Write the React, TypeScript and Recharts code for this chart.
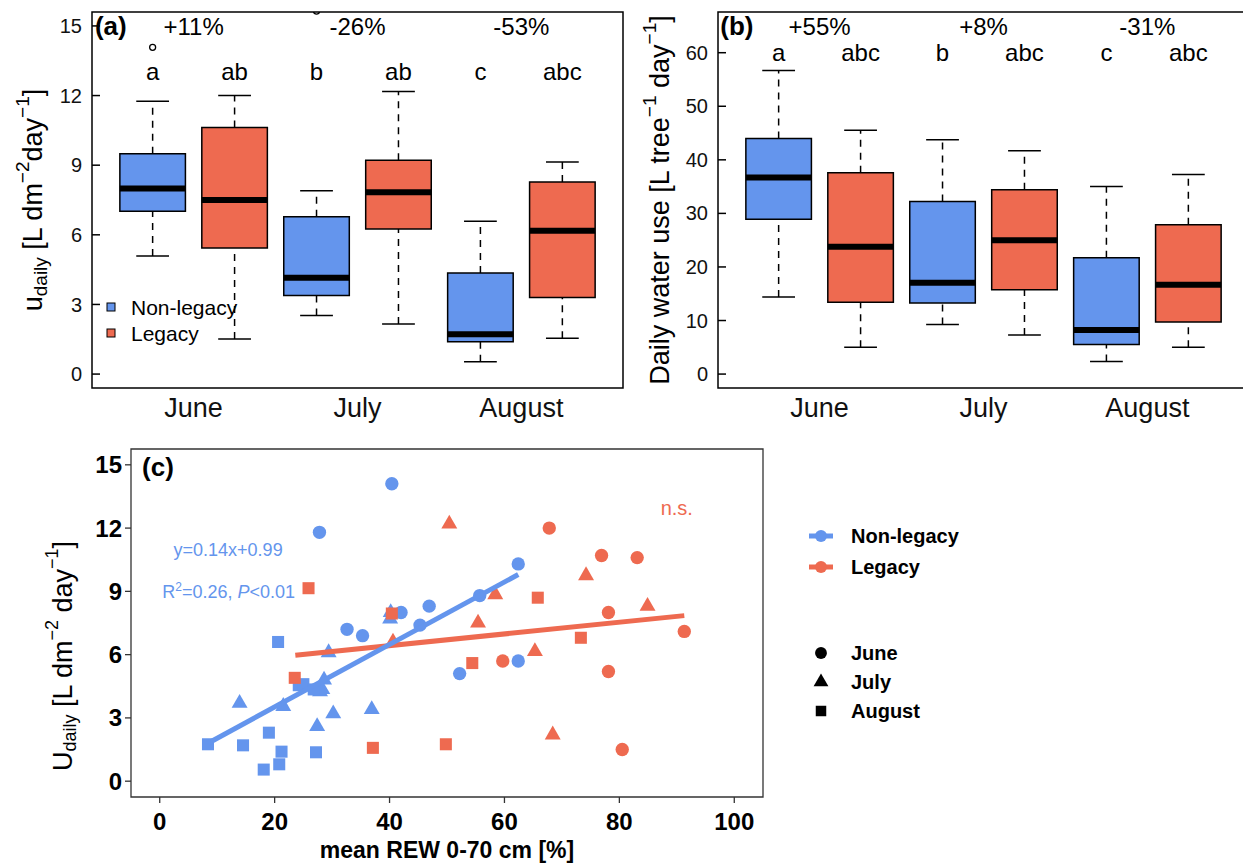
import React from "react"
import {
  ComposedChart,
  ScatterChart,
  Scatter,
  XAxis,
  YAxis,
  ReferenceArea,
  ReferenceLine,
  ReferenceDot,
  Legend,
  Symbols,
} from "recharts"

const BLUE = "#6495ED"
const RED = "#EE6A50"
const FONT = "'Liberation Sans', Arial, Helvetica, sans-serif"

const months = ["June", "July", "August"]
const groups = ["Non-legacy", "Legacy"]

// box stats per month: [lower whisker, Q1, median, Q3, upper whisker]
const uNonLegacy = [
  [5.09, 7.01, 8.0, 9.49, 11.76],
  [2.52, 3.38, 4.15, 6.78, 7.9],
  [0.53, 1.39, 1.72, 4.35, 6.58],
]
const uLegacy = [
  [1.51, 5.43, 7.5, 10.62, 12.0],
  [2.16, 6.25, 7.83, 9.21, 12.17],
  [1.54, 3.3, 6.18, 8.28, 9.14],
]
const uOutliers = [
  { month: 0, group: 0, value: 14.08 },
  { month: 1, group: 0, value: 15.64 },
]
const uLetters = ["a", "ab", "b", "ab", "c", "abc"]
const uChange = ["+11%", "-26%", "-53%"]
const uTicks = [0, 3, 6, 9, 12, 15]

const wNonLegacy = [
  [14.4, 28.9, 36.7, 44.0, 56.7],
  [9.25, 13.25, 17.06, 32.2, 43.75],
  [2.37, 5.5, 8.25, 21.7, 35.0],
]
const wLegacy = [
  [5.0, 13.4, 23.75, 37.6, 45.5],
  [7.3, 15.75, 25.0, 34.4, 41.7],
  [5.0, 9.7, 16.7, 27.9, 37.25],
]
const wOutliers: { month: number; group: number; value: number }[] = []
const wLetters = ["a", "abc", "b", "abc", "c", "abc"]
const wChange = ["+55%", "+8%", "-31%"]
const wTicks = [0, 10, 20, 30, 40, 50, 60]

// panel (c): [mean REW %, U daily]
const nlJune = [
  [40.4, 14.1], [27.8, 11.8], [32.6, 7.2], [35.3, 6.9], [42.0, 8.0], [46.9, 8.3],
  [45.3, 7.4], [52.2, 5.1], [55.7, 8.8], [62.4, 10.3], [62.4, 5.7],
]
const nlJuly = [
  [13.9, 3.7], [21.5, 3.55], [29.4, 6.1], [28.6, 4.8], [27.9, 4.25], [28.3, 4.35],
  [27.4, 2.6], [30.2, 3.2], [36.9, 3.4], [40.1, 7.7], [40.2, 8.0],
]
const nlAugust = [
  [8.4, 1.75], [14.5, 1.7], [19.0, 2.3], [18.1, 0.55], [20.8, 0.8], [21.2, 1.4],
  [20.6, 6.6], [27.2, 1.37], [24.2, 4.55], [25.0, 4.6], [26.8, 4.35],
]
const lJune = [
  [67.8, 12.0], [76.9, 10.7], [83.1, 10.6], [78.1, 8.0], [91.3, 7.1], [59.7, 5.7],
  [78.1, 5.2], [80.5, 1.5],
]
const lJuly = [
  [50.4, 12.2], [74.2, 9.75], [58.4, 8.85], [84.9, 8.3], [55.4, 7.5], [65.3, 6.15],
  [68.4, 2.2], [40.6, 6.6],
]
const lAugust = [
  [25.9, 9.15], [23.5, 4.9], [40.4, 7.95], [37.1, 1.58], [49.8, 1.75], [54.4, 5.6],
  [65.8, 8.7], [73.3, 6.8],
]
const blueFit = [[8.4, 1.8], [62.4, 9.8]]
const redFit = [[23.6, 5.97], [91.3, 7.85]]
const rewTicks = [0, 20, 40, 60, 80, 100]

const toPts = (arr: number[][]) => arr.map(([x, y]) => ({ x, y }))
const pos = (month: number, group: number) => month * 2 + group + 1

const X_DOMAIN = [0.26, 6.74]

const note = (text: React.ReactNode, size: number, color = "#000", weight = "normal") =>
  (p: any) => (
    <text x={p.cx} y={p.cy} textAnchor="middle" fontSize={size} fill={color} fontWeight={weight} fontFamily={FONT}>
      {text}
    </text>
  )

function boxMarks(p: number, s: number[], color: string, key: string) {
  const [lo, q1, md, q3, hi] = s
  const line = { stroke: "#000", strokeWidth: 1.5, ifOverflow: "visible" as const }
  return [
    <ReferenceLine key={key + "wh"} segment={[{ x: p, y: q3 }, { x: p, y: hi }]} {...line} strokeDasharray="7 6" />,
    <ReferenceLine key={key + "wl"} segment={[{ x: p, y: lo }, { x: p, y: q1 }]} {...line} strokeDasharray="7 6" />,
    <ReferenceLine key={key + "ch"} segment={[{ x: p - 0.2, y: hi }, { x: p + 0.2, y: hi }]} {...line} />,
    <ReferenceLine key={key + "cl"} segment={[{ x: p - 0.2, y: lo }, { x: p + 0.2, y: lo }]} {...line} />,
    <ReferenceArea key={key + "b"} x1={p - 0.4} x2={p + 0.4} y1={q1} y2={q3} fill={color} fillOpacity={1} stroke="#000" strokeWidth={1.5} />,
    <ReferenceLine key={key + "m"} segment={[{ x: p - 0.4, y: md }, { x: p + 0.4, y: md }]} stroke="#000" strokeWidth={6} />,
  ]
}

function BoxLegend() {
  return (
    <svg width={170} height={56} style={{ fontFamily: FONT }}>
      {groups.map((g, i) => (
        <g key={g}>
          <rect x={7} y={11 + i * 26} width={8} height={8} fill={i === 0 ? BLUE : RED} stroke="#000" strokeWidth={1} />
          <text x={31} y={15 + i * 26} dominantBaseline="central" fontSize={21} fill="#000">{g}</text>
        </g>
      ))}
    </svg>
  )
}

type BoxPanelProps = {
  nonLegacy: number[][]
  legacy: number[][]
  outliers: { month: number; group: number; value: number }[]
  letters: string[]
  change: string[]
  ticks: number[]
  yDomain: number[]
  letterY: number
  changeY: number
  tag: string
  yLabel: (p: any) => React.ReactElement
  marginLeft: number
  marginRight: number
  showLegend?: boolean
}

function BoxPanel(props: BoxPanelProps) {
  const boxes = [props.nonLegacy, props.legacy].flatMap((g, gi) =>
    g.map((s, mi) => boxMarks(pos(mi, gi), s, gi === 0 ? BLUE : RED, `${gi}-${mi}`))
  )
  const outPts = props.outliers.map((o) => ({ x: pos(o.month, o.group), y: o.value }))
  return (
    <ComposedChart
      width={640}
      height={430}
      margin={{ top: 12, right: props.marginRight, bottom: 12, left: props.marginLeft }}
    >
      <XAxis
        type="number"
        dataKey="x"
        domain={X_DOMAIN}
        allowDataOverflow
        ticks={[1.5, 3.5, 5.5]}
        interval={0}
        tickFormatter={(v) => months[Math.round((v - 1.5) / 2)]}
        axisLine={false}
        tickLine={false}
        tickSize={0}
        tickMargin={10}
        tick={{ fontSize: 27, fill: "#111", fontFamily: FONT }}
        height={30}
      />
      <YAxis
        type="number"
        dataKey="y"
        domain={props.yDomain}
        allowDataOverflow
        ticks={props.ticks}
        interval={0}
        axisLine={false}
        tickSize={-8}
        tickMargin={18}
        tickLine={{ stroke: "#000", strokeWidth: 1.5 }}
        tick={{ fontSize: 20, fill: "#111", fontFamily: FONT }}
        width={30}
        label={{ content: props.yLabel }}
      />
      <ReferenceArea
        x1={X_DOMAIN[0]}
        x2={X_DOMAIN[1]}
        y1={props.yDomain[0]}
        y2={props.yDomain[1]}
        fill="none"
        stroke="#000"
        strokeWidth={1.5}
      />
      {boxes}
      <Scatter
        data={outPts}
        isAnimationActive={false}
        legendType="none"
        shape={(p: any) => <circle cx={p.cx} cy={p.cy} r={3} fill="none" stroke="#000" strokeWidth={1.3} />}
      />
      <ReferenceDot x={0.49} y={props.changeY} r={0} ifOverflow="visible" shape={note(props.tag, 26, "#000", "bold")} />
      {props.change.map((c, i) => (
        <ReferenceDot key={"c" + i} x={i * 2 + 1.5} y={props.changeY} r={0} ifOverflow="visible" shape={note(c, 24)} />
      ))}
      {props.letters.map((l, i) => (
        <ReferenceDot key={"l" + i} x={i + 1} y={props.letterY} r={0} ifOverflow="visible" shape={note(l, 24)} />
      ))}
      {props.showLegend && (
        <Legend
          layout="vertical"
          align="center"
          verticalAlign="middle"
          wrapperStyle={{ left: 100, top: 292, width: 170, height: 56 }}
          content={() => <BoxLegend />}
        />
      )}
    </ComposedChart>
  )
}

const uLabel = (p: any) => {
  const vb = p.viewBox ?? { x: 62, y: 12, width: 30, height: 376 }
  const cx = vb.x - 29
  const cy = vb.y + vb.height / 2
  return (
    <text transform={`rotate(-90 ${cx} ${cy})`} x={cx} y={cy} textAnchor="middle" dominantBaseline="central" fontSize={27} fill="#000" fontFamily={FONT}>
      u<tspan dy={7} fontSize={19}>daily</tspan>
      <tspan dy={-7}> [L dm</tspan>
      <tspan dy={-11} fontSize={19}>−2</tspan>
      <tspan dy={11}>day</tspan>
      <tspan dy={-11} fontSize={19}>−1</tspan>
      <tspan dy={11}>]</tspan>
    </text>
  )
}

const wLabel = (p: any) => {
  const vb = p.viewBox ?? { x: 58, y: 12, width: 30, height: 376 }
  const cx = vb.x - 28
  const cy = vb.y + vb.height / 2
  return (
    <text transform={`rotate(-90 ${cx} ${cy})`} x={cx} y={cy} textAnchor="middle" dominantBaseline="central" fontSize={27} fill="#000" fontFamily={FONT}>
      Daily water use [L tree<tspan dy={-11} fontSize={19}>−1</tspan>
      <tspan dy={11}> day</tspan>
      <tspan dy={-11} fontSize={19}>−1</tspan>
      <tspan dy={11}>]</tspan>
    </text>
  )
}

const cYLabel = (p: any) => {
  const vb = p.viewBox ?? { x: 91, y: 19, width: 40, height: 348 }
  const cx = vb.x - 28
  const cy = vb.y + vb.height / 2 + 33
  return (
    <text transform={`rotate(-90 ${cx} ${cy})`} x={cx} y={cy} textAnchor="middle" dominantBaseline="central" fontSize={27} fill="#000" fontFamily={FONT}>
      U<tspan dy={7} fontSize={18}>daily</tspan>
      <tspan dy={-7}>  [L dm</tspan>
      <tspan dy={-11} fontSize={18}>−2</tspan>
      <tspan dy={11}> day</tspan>
      <tspan dy={-11} fontSize={18}>−1</tspan>
      <tspan dy={11}>]</tspan>
    </text>
  )
}

const cXLabel = (p: any) => {
  const vb = p.viewBox ?? { x: 131, y: 367, width: 632, height: 30 }
  return (
    <text x={vb.x + vb.width / 2} y={vb.y + 53} textAnchor="middle" dominantBaseline="central" fontSize={23} fontWeight="bold" fill="#000" fontFamily={FONT}>
      mean REW 0-70 cm [%]
    </text>
  )
}

const marker = (type: any, color: string, size: number) => (p: any) => (
  <Symbols cx={p.cx} cy={p.cy} type={type} size={size} fill={color} />
)

const scatterSeries = [
  { data: nlJune, type: "circle", color: BLUE, size: 140 },
  { data: nlJuly, type: "triangle", color: BLUE, size: 110 },
  { data: nlAugust, type: "square", color: BLUE, size: 145 },
  { data: lJune, type: "circle", color: RED, size: 140 },
  { data: lJuly, type: "triangle", color: RED, size: 110 },
  { data: lAugust, type: "square", color: RED, size: 145 },
]
const monthShapes = ["circle", "triangle", "square"]

function ScatterLegend() {
  return (
    <svg width={200} height={210} style={{ fontFamily: FONT }}>
      {groups.map((g, i) => {
        const c = i === 0 ? BLUE : RED
        const y = 16 + i * 31
        return (
          <g key={g}>
            <line x1={9} x2={33} y1={y} y2={y} stroke={c} strokeWidth={5} />
            <circle cx={21} cy={y} r={6} fill={c} />
            <text x={51} y={y} dominantBaseline="central" fontSize={20} fontWeight="bold" fill="#000">{g}</text>
          </g>
        )
      })}
      {months.map((m, i) => {
        const y = 133 + i * 29
        return (
          <g key={m}>
            <Symbols cx={21} cy={y} type={monthShapes[i] as any} size={[110, 95, 110][i]} fill="#000" />
            <text x={51} y={y} dominantBaseline="central" fontSize={20} fontWeight="bold" fill="#000">{m}</text>
          </g>
        )
      })}
    </svg>
  )
}

function ScatterPanel() {
  return (
    <ScatterChart width={1243} height={434} margin={{ top: 19, right: 480, bottom: 37, left: 91 }}>
      <XAxis
        type="number"
        dataKey="x"
        domain={[-5, 105]}
        allowDataOverflow
        ticks={rewTicks}
        interval={0}
        axisLine={false}
        tickSize={6}
        tickMargin={10}
        tickLine={{ stroke: "#333", strokeWidth: 1.3 }}
        tick={{ fontSize: 24, fontWeight: "bold", fill: "#000", fontFamily: FONT }}
        height={30}
        label={{ content: cXLabel }}
      />
      <YAxis
        type="number"
        dataKey="y"
        domain={[-0.75, 15.75]}
        allowDataOverflow
        ticks={uTicks}
        interval={0}
        axisLine={false}
        tickSize={6}
        tickMargin={3}
        tickLine={{ stroke: "#333", strokeWidth: 1.3 }}
        tick={{ fontSize: 24, fontWeight: "bold", fill: "#000", fontFamily: FONT }}
        width={40}
        label={{ content: cYLabel }}
      />
      <ReferenceArea x1={-5} x2={105} y1={-0.75} y2={15.75} fill="none" stroke="#333" strokeWidth={1.3} />
      {scatterSeries.map((s, i) => (
        <Scatter
          key={i}
          data={toPts(s.data)}
          isAnimationActive={false}
          legendType="none"
          shape={marker(s.type, s.color, s.size)}
        />
      ))}
      <Scatter
        data={toPts(redFit)}
        isAnimationActive={false}
        legendType="none"
        line={{ stroke: RED, strokeWidth: 5 }}
        shape={() => <g />}
      />
      <Scatter
        data={toPts(blueFit)}
        isAnimationActive={false}
        legendType="none"
        line={{ stroke: BLUE, strokeWidth: 5 }}
        shape={() => <g />}
      />
      <ReferenceDot x={-0.3} y={14.47} r={0} ifOverflow="visible" shape={note("(c)", 26, "#000", "bold")} />
      <ReferenceDot x={11.9} y={10.68} r={0} ifOverflow="visible" shape={note("y=0.14x+0.99", 18, BLUE)} />
      <ReferenceDot
        x={12.0}
        y={8.68}
        r={0}
        ifOverflow="visible"
        shape={note(
          <>
            R<tspan dy={-7} fontSize={12}>2</tspan>
            <tspan dy={7}>=0.26, </tspan>
            <tspan fontStyle="italic">P</tspan>
            <tspan>{"<0.01"}</tspan>
          </>,
          18,
          BLUE
        )}
      />
      <ReferenceDot x={90} y={12.62} r={0} ifOverflow="visible" shape={note("n.s.", 20, RED)} />
      <Legend
        layout="vertical"
        align="center"
        verticalAlign="middle"
        wrapperStyle={{ left: 800, top: 90, width: 200, height: 210 }}
        content={() => <ScatterLegend />}
      />
    </ScatterChart>
  )
}

export default function App() {
  return (
    <div
      style={{
        position: "absolute",
        left: 0,
        top: 0,
        width: 1243,
        height: 864,
        overflow: "hidden",
        background: "#fff",
        fontFamily: FONT,
      }}
    >
      <div style={{ position: "absolute", left: 0, top: 0 }}>
        <BoxPanel
          nonLegacy={uNonLegacy}
          legacy={uLegacy}
          outliers={uOutliers}
          letters={uLetters}
          change={uChange}
          ticks={uTicks}
          yDomain={[-0.6, 15.6]}
          letterY={12.67}
          changeY={14.61}
          tag="(a)"
          yLabel={uLabel}
          marginLeft={62}
          marginRight={17}
          showLegend
        />
      </div>
      <div style={{ position: "absolute", left: 630, top: 0 }}>
        <BoxPanel
          nonLegacy={wNonLegacy}
          legacy={wLegacy}
          outliers={wOutliers}
          letters={wLetters}
          change={wChange}
          ticks={wTicks}
          yDomain={[-2.6, 67.6]}
          letterY={58.45}
          changeY={63.3}
          tag="(b)"
          yLabel={wLabel}
          marginLeft={58}
          marginRight={21}
        />
      </div>
      <div style={{ position: "absolute", left: 0, top: 430 }}>
        <ScatterPanel />
      </div>
    </div>
  )
}
